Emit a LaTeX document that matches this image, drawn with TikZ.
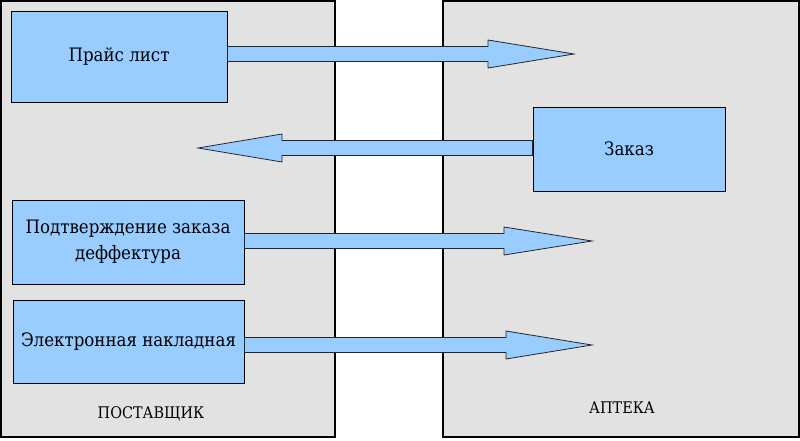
\documentclass[tikz,border=0pt]{standalone}
\usepackage{fontspec}
\setmainfont{DejaVu Serif Condensed}
\usetikzlibrary{calc}

\definecolor{boxblue}{HTML}{99CCFF}
\definecolor{panelgray}{HTML}{E2E2E2}

\tikzset{
  panel/.style={draw, line width=2pt, fill=panelgray, inner sep=0pt},
  box/.style={draw, line width=1pt, fill=boxblue, inner sep=0pt, align=center,
    font=\fontsize{18.5}{26}\selectfont},
  barrow/.style={draw=black!85, line width=0.8pt, fill=boxblue, line join=miter},
  caption/.style={font=\fontsize{16}{19}\selectfont}
}

% block arrow: start node, tip coordinate, head length
\newcommand{\blockarrow}[3]{%
  \filldraw[barrow] ($(#1 |- #2)+(0,7.5)$) -- ($(#2)+({-(#3)},7.5)$)
    -- ($(#2)+({-(#3)},14)$) -- (#2) -- ($(#2)+({-(#3)},-14)$)
    -- ($(#2)+({-(#3)},-7.5)$) -- ($(#1 |- #2)+(0,-7.5)$) -- cycle;}

\begin{document}
\begin{tikzpicture}[x=1pt, y=-1pt]
  \useasboundingbox (0,0) rectangle (800,440);

  % panels
  \node[panel, minimum width=334, minimum height=436] (supplier) at (168,219) {};
  \node[panel, minimum width=356, minimum height=436] (pharmacy) at (621,219) {};
  \node[caption] (supplierlabel) at (151,414) {ПОСТАВЩИК};
  \node[caption] (pharmacylabel) at (622,408) {АПТЕКА};

  % documents
  \node[box, minimum width=216, minimum height=91] (price) at (119,56.5) {Прайс лист};
  \node[box, minimum width=192, minimum height=84] (order) at (629,149) {Заказ};
  \node[box, minimum width=232, minimum height=84] (confirm) at (128,242)
    {Подтверждение заказа\\деффектура};
  \node[box, minimum width=231, minimum height=83] (invoice) at (128.5,341.5)
    {Электронная накладная};

  \coordinate (pricetip) at (574,54);
  \coordinate (ordertip) at (198,148);
  \coordinate (confirmtip) at (592,241);
  \coordinate (invoicetip) at (592,345);

  \blockarrow{price.east}{pricetip}{86}
  \blockarrow{order.west}{ordertip}{-84}
  \blockarrow{confirm.east}{confirmtip}{88}
  \blockarrow{invoice.east}{invoicetip}{86}
\end{tikzpicture}
\end{document}
